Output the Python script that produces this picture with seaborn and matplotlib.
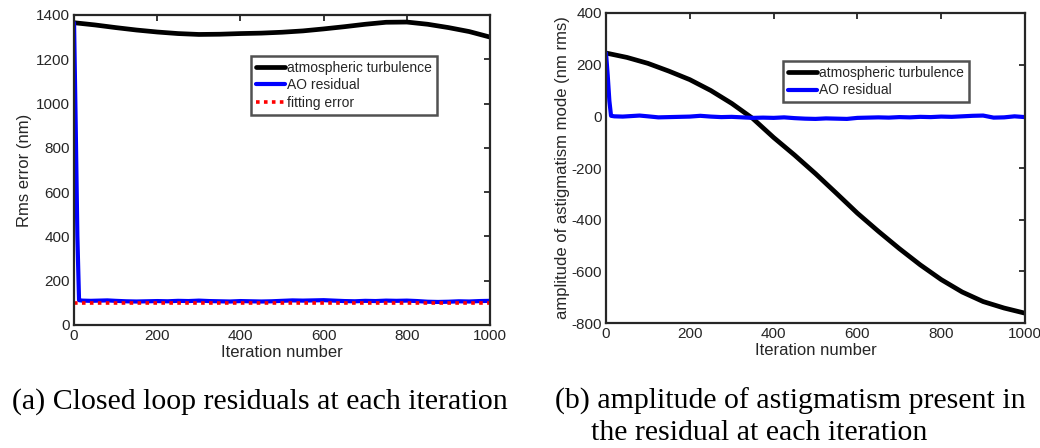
import matplotlib
matplotlib.use("Agg")
import matplotlib.pyplot as plt
import seaborn as sns

# --- data ---
iters_smooth = [0, 50, 100, 150, 200, 250, 300, 350, 400, 450, 500,
                550, 600, 650, 700, 750, 800, 850, 900, 950, 1000]

# (a) rms error
turb_rms = [1365, 1355, 1343, 1332, 1323, 1316, 1312, 1313, 1316, 1318, 1322,
            1328, 1337, 1347, 1358, 1367, 1368, 1358, 1343, 1325, 1300]

iters_res = [0, 4, 8, 12, 20, 40, 60, 80, 100, 125, 150, 175, 200, 225, 250,
             275, 300, 325, 350, 375, 400, 425, 450, 475, 500, 525, 550,
             575, 600, 625, 650, 675, 700, 725, 750, 775, 800, 825, 850,
             875, 900, 925, 950, 975, 1000]
ao_rms = [1365, 900, 400, 112, 110, 109, 110, 111, 109, 107, 106, 107, 108,
          107, 109, 108, 110, 108, 107, 106, 108, 107, 106, 107, 109, 111,
          110, 111, 112, 110, 108, 107, 109, 108, 110, 109, 110, 108, 105,
          104, 105, 107, 106, 108, 109]
fit_rms = [100] * len(iters_res)

# (b) astigmatism amplitude
turb_astig = [245, 228, 205, 175, 142, 100, 50, -8, -82, -150, -222,
              -298, -375, -445, -512, -575, -632, -680, -717, -742, -762]
ao_astig = [245, 160, 60, 2, 0, -1, 1, 3, 0, -4, -3, -2, -1, 2, -1, -3,
            -2, -4, -6, -5, -6, -4, -7, -9, -10, -8, -9, -10, -6, -5, -4,
            -5, -3, -4, -2, -3, -1, -2, 0, 2, 3, -5, -4, 0, -3]

captions = ["(a) Closed loop residuals at each iteration",
            "(b) amplitude of astigmatism present in",
            "the residual at each iteration"]

sns.set_style("white")
plt.rcParams["font.family"] = ["Liberation Sans", "DejaVu Sans"]
plt.rcParams["axes.unicode_minus"] = False
axcol = "#262626"

fig = plt.figure(figsize=(10.4, 4.48), dpi=100)
ax1 = fig.add_axes([0.0712, 0.2746, 0.400, 0.692])
ax2 = fig.add_axes([0.5827, 0.279, 0.4029, 0.692])

sns.lineplot(x=iters_smooth, y=turb_rms, ax=ax1, color="black", lw=3.4,
             label="atmospheric turbulence")
sns.lineplot(x=iters_res, y=ao_rms, ax=ax1, color="#0000ff", lw=3,
             label="AO residual")
sns.lineplot(x=iters_res, y=fit_rms, ax=ax1, color="#ff0000", lw=2.6,
             linestyle=(0, (1, 1.2)), label="fitting error")
ax1.set_ylim(0, 1400)
ax1.set_yticks(range(0, 1401, 200))
ax1.set_ylabel("Rms error (nm)", fontsize=12, color=axcol, labelpad=3)

sns.lineplot(x=iters_smooth, y=turb_astig, ax=ax2, color="black", lw=3.4,
             label="atmospheric turbulence")
sns.lineplot(x=iters_res, y=ao_astig, ax=ax2, color="#0000ff", lw=3,
             label="AO residual")
ax2.set_ylim(-800, 400)
ax2.set_yticks(range(-800, 401, 200))
ax2.set_ylabel("amplitude of astigmatism mode (nm rms)", fontsize=12,
               color=axcol, labelpad=1)

for ax in (ax1, ax2):
    ax.set_xlim(0, 1000)
    ax.set_xticks(range(0, 1001, 200))
    ax.set_xlabel("Iteration number", fontsize=12, color=axcol, labelpad=1)
    ax.tick_params(direction="in", top=True, right=True, length=4,
                   width=1.3, colors=axcol, labelsize=11, pad=3)
    for s in ax.spines.values():
        s.set_color(axcol)
        s.set_linewidth(1.6)

leg_kw = dict(loc="upper left", fontsize=10, frameon=True, fancybox=False,
              handlelength=2.1, handletextpad=0.15, borderpad=0.35,
              labelspacing=0.25, borderaxespad=0)
leg1 = ax1.legend(bbox_to_anchor=(0.425, 0.868), **leg_kw)
leg2 = ax2.legend(bbox_to_anchor=(0.4224, 0.845), **leg_kw)
for leg in (leg1, leg2):
    leg.get_frame().set_edgecolor(axcol)
    leg.get_frame().set_linewidth(1.8)

serif = ["Liberation Serif", "DejaVu Serif"]
fig.text(0.012, 0.088, captions[0], fontsize=21.5, family=serif,
         va="baseline", color="black")
fig.text(0.534, 0.088, captions[1], fontsize=21.5, family=serif,
         va="baseline", color="black")
fig.text(0.568, 0.018, captions[2], fontsize=21.5, family=serif,
         va="baseline", color="black")

fig.savefig("out.png", dpi=100)
